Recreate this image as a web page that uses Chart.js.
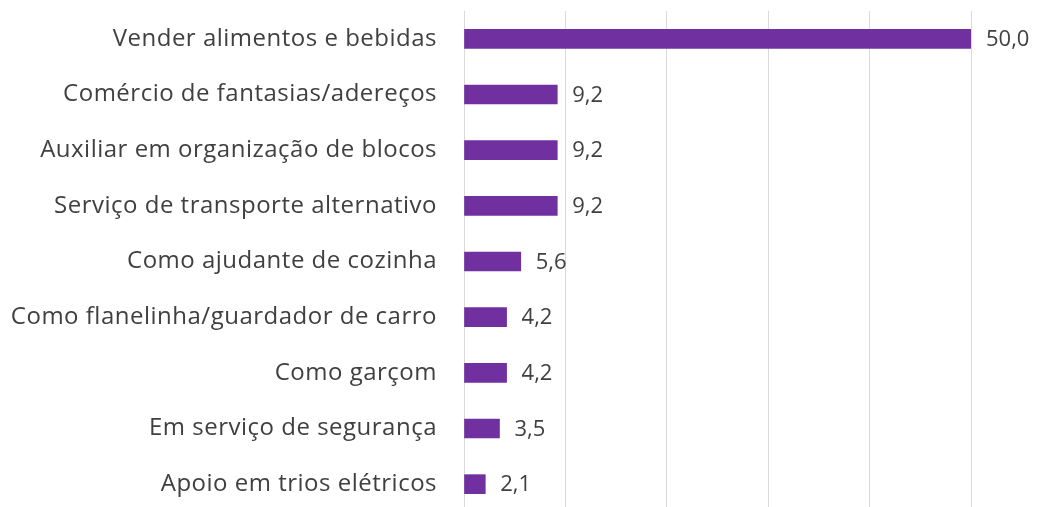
<!DOCTYPE html>
<html>
<head>
<meta charset="utf-8">
<script src="https://cdn.jsdelivr.net/npm/chart.js@4"></script>
<style>
  html, body { margin: 0; padding: 0; background: #fff; overflow: hidden; }
  #wrap { width: 1042px; height: 512px; }
</style>
</head>
<body>
<div id="wrap"><canvas id="atividades"></canvas></div>
<script>
// categorias e valores (%)
const categorias = [
  "Vender alimentos e bebidas",
  "Comércio de fantasias/adereços",
  "Auxiliar em organização de blocos",
  "Serviço de transporte alternativo",
  "Como ajudante de cozinha",
  "Como flanelinha/guardador de carro",
  "Como garçom",
  "Em serviço de segurança",
  "Apoio em trios elétricos",
];
const valores = [50.0, 9.2, 9.2, 9.2, 5.6, 4.2, 4.2, 3.5, 2.1];

const fonte = "'Open Sans', 'Liberation Sans', sans-serif";

// espaçamento de letras (texto do original é mais largo)
const espacoPlugin = {
  id: "espaco",
  beforeDraw(chart) {
    chart.ctx.letterSpacing = "0.5px";
  },
};

// rótulos de valor ao lado das barras
const rotulosPlugin = {
  id: "rotulos",
  afterDatasetsDraw(chart) {
    const ctx = chart.ctx;
    const meta = chart.getDatasetMeta(0);
    ctx.save();
    ctx.font = "22px " + fonte;
    ctx.letterSpacing = "0px";
    ctx.fillStyle = "#404040";
    ctx.textAlign = "left";
    ctx.textBaseline = "middle";
    meta.data.forEach((bar, i) => {
      const txt = valores[i].toLocaleString("pt-BR", {
        minimumFractionDigits: 1,
        maximumFractionDigits: 1,
      });
      ctx.fillText(txt, bar.x + 15, bar.y + 1);
    });
    ctx.restore();
  },
};

const ctx = document.querySelector("#atividades").getContext("2d");
new Chart(ctx, {
  type: "bar",
  data: {
    labels: categorias,
    datasets: [
      {
        data: valores,
        backgroundColor: "#7030A0",
        barThickness: 19,
      },
    ],
  },
  options: {
    indexAxis: "y",
    responsive: true,
    maintainAspectRatio: false,
    animation: false,
    layout: { padding: { top: 11, right: 71, bottom: 0, left: 0 } },
    plugins: {
      legend: { display: false },
      tooltip: { enabled: false },
    },
    scales: {
      x: {
        min: 0,
        max: 50,
        ticks: { display: false, stepSize: 10 },
        grid: { color: "#d9d9d9", lineWidth: 1, drawTicks: false },
        border: { display: false },
        afterFit: (scale) => {
          scale.height = 0;
          scale.paddingLeft = 0;
          scale.paddingRight = 0;
        },
      },
      y: {
        ticks: {
          color: "#404040",
          font: { family: fonte, size: 24 },
          padding: 27,
        },
        grid: { display: false, drawTicks: false },
        border: { display: false },
        afterFit: (scale) => {
          scale.width = 464;
          scale.paddingTop = 0;
          scale.paddingBottom = 0;
        },
      },
    },
  },
  plugins: [espacoPlugin, rotulosPlugin],
});
</script>
</body>
</html>
